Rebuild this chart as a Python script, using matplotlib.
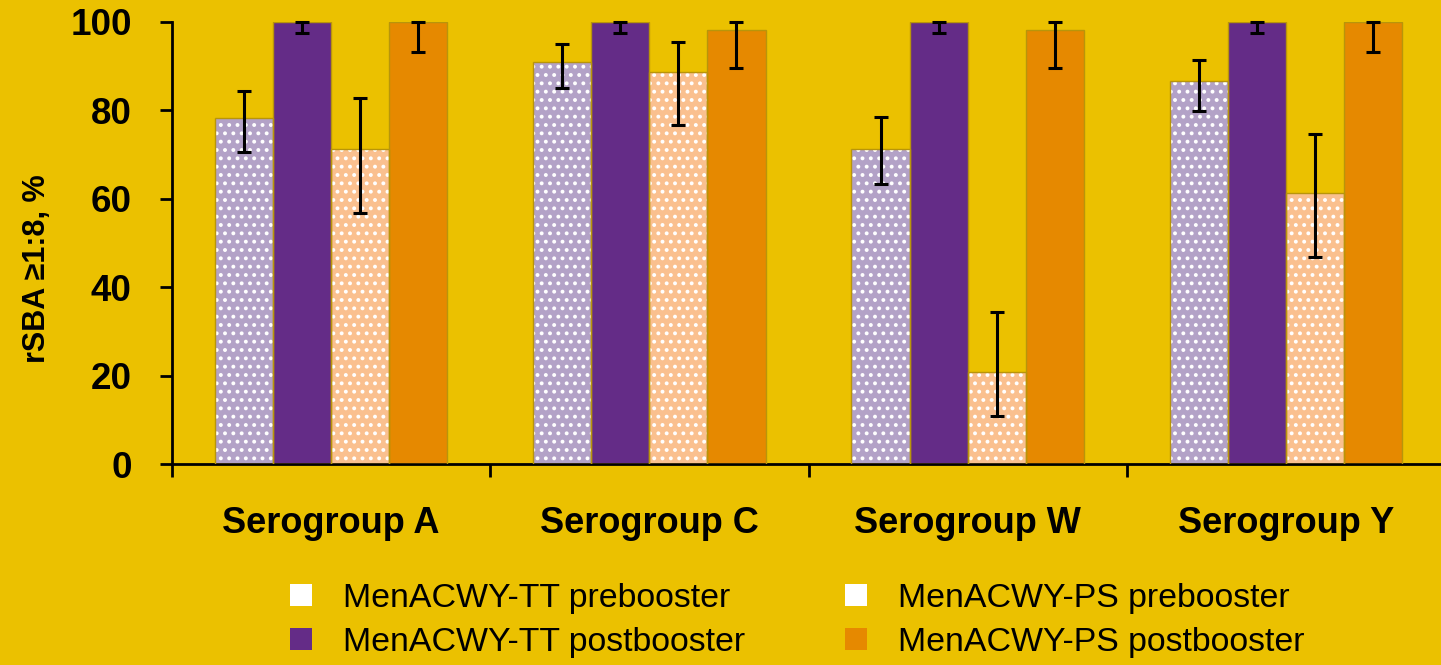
import matplotlib
matplotlib.use("Agg")
import matplotlib.pyplot as plt
import numpy as np
from matplotlib.patches import Patch

# --- data ---
groups = ['Serogroup A', 'Serogroup C', 'Serogroup W', 'Serogroup Y']

tt_pre = [78.2, 90.8, 71.2, 86.5]
tt_pre_lo = [70.6, 85.0, 63.4, 79.8]
tt_pre_hi = [84.3, 94.9, 78.4, 91.3]

tt_post = [100, 100, 100, 100]
tt_post_lo = [97.4, 97.5, 97.5, 97.5]
tt_post_hi = [100, 100, 100, 100]

ps_pre = [71.2, 88.6, 20.9, 61.4]
ps_pre_lo = [56.8, 76.7, 10.8, 46.9]
ps_pre_hi = [82.8, 95.4, 34.5, 74.6]

ps_post = [100, 98.1, 98.1, 100]
ps_post_lo = [93.1, 89.6, 89.6, 93.1]
ps_post_hi = [100, 100, 100, 100]

series_labels = ['MenACWY-TT prebooster', 'MenACWY-TT postbooster',
                 'MenACWY-PS prebooster', 'MenACWY-PS postbooster']

# --- styling ---
bg = '#ebc100'
c_tt_pre = '#b3a2c7'
c_tt_post = '#642c87'
c_ps_pre = '#fac08f'
c_ps_post = '#e68900'
bar_edge = '#b8950a'

plt.rcParams['font.family'] = ['Liberation Sans', 'DejaVu Sans']
plt.rcParams['hatch.linewidth'] = 1.6

fig = plt.figure(figsize=(14.41, 6.65), dpi=100, facecolor=bg)
ax = fig.add_axes([172 / 1441, 0.3018, 1273 / 1441, 0.6656])
ax.set_facecolor(bg)

x = np.arange(len(groups))
w = 0.1825
offsets = [-1.5 * w, -0.5 * w, 0.5 * w, 1.5 * w]

series = [
    (tt_pre, tt_pre_lo, tt_pre_hi, c_tt_pre, True),
    (tt_post, tt_post_lo, tt_post_hi, c_tt_post, False),
    (ps_pre, ps_pre_lo, ps_pre_hi, c_ps_pre, True),
    (ps_post, ps_post_lo, ps_post_hi, c_ps_post, False),
]

for (vals, lo, hi, col, dotted), off in zip(series, offsets):
    xs = x + off
    if dotted:
        # dotted fill: hatch drawn in white, border drawn separately
        ax.bar(xs, vals, w, color=col, hatch='..', edgecolor='white', linewidth=0, zorder=2)
    else:
        ax.bar(xs, vals, w, color=col, linewidth=0, zorder=2)
    ax.bar(xs, vals, w, facecolor='none', edgecolor=bar_edge, linewidth=1.0, zorder=3)
    vals = np.array(vals)
    yerr = [vals - np.array(lo), np.array(hi) - vals]
    eb = ax.errorbar(xs, vals, yerr=yerr, fmt='none', ecolor='black',
                     elinewidth=2.2, capsize=5, capthick=2.2, zorder=4)
    for part in eb.get_children():
        part.set_clip_on(False)

ax.set_xlim(-0.5, 3.5)
ax.set_ylim(0, 100)

for s in ['top', 'right']:
    ax.spines[s].set_visible(False)
for s in ['left', 'bottom']:
    ax.spines[s].set_linewidth(2)

ax.set_yticks([0, 20, 40, 60, 80, 100])
ax.tick_params(axis='y', direction='out', length=9, width=2, pad=20, labelsize=26.5)
for lab in ax.get_yticklabels():
    lab.set_fontweight('bold')

ax.set_xticks([-0.5, 0.5, 1.5, 2.5, 3.5])
ax.set_xticklabels([])
ax.set_xticks(x, minor=True)
ax.set_xticklabels(groups, minor=True, fontsize=26, fontweight='bold')
ax.tick_params(axis='x', which='major', direction='out', length=9.5, width=2)
ax.tick_params(axis='x', which='minor', length=0, pad=30)

fig.text(37 / 1441, 1 - 269 / 665, 'rSBA ≥1:8, %', rotation=90, ha='center', va='center',
         fontsize=22, fontweight='bold')

handles = [
    Patch(facecolor='white', edgecolor='none'),
    Patch(facecolor=c_tt_post, edgecolor='none'),
    Patch(facecolor='white', edgecolor='none'),
    Patch(facecolor=c_ps_post, edgecolor='none'),
]
fig.legend(handles, series_labels, ncol=2, loc='upper left',
           bbox_to_anchor=(290 / 1441, 1 - 583 / 665), frameon=False,
           fontsize=24.4, handlelength=0.66, handleheight=0.62,
           handletextpad=0.9, columnspacing=2.95, labelspacing=0.38, borderpad=0,
           borderaxespad=0)

fig.savefig('out.png', dpi=100, facecolor=bg)
